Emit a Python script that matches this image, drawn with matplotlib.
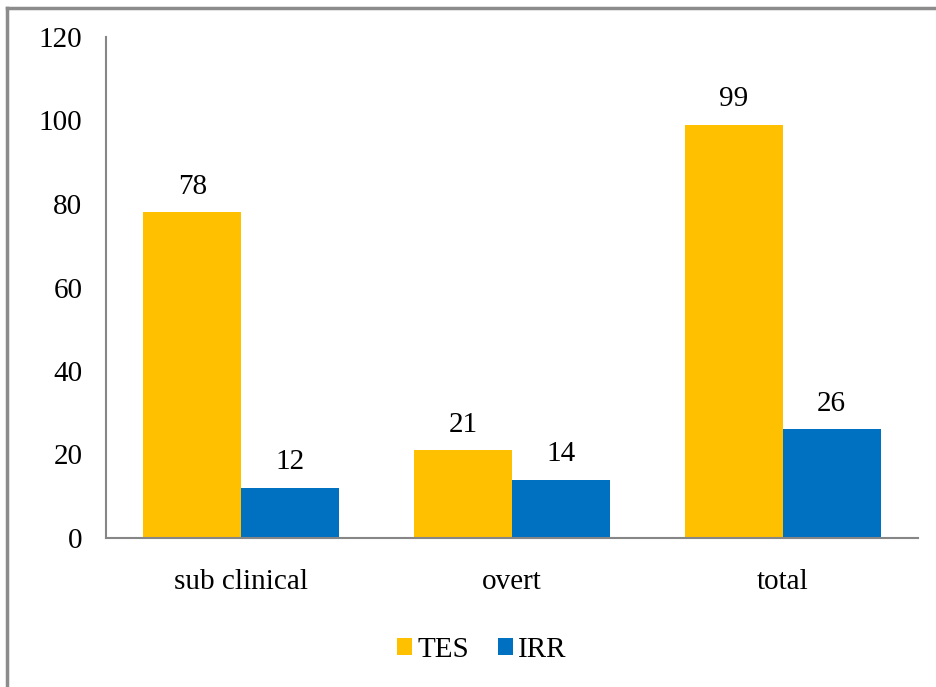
import matplotlib.pyplot as plt
from matplotlib.lines import Line2D
import numpy as np

categories = ["sub clinical", "overt", "total"]
tes = [78, 21, 99]
irr = [12, 14, 26]
yticks = [0, 20, 40, 60, 80, 100, 120]

plt.rcParams["font.family"] = "Liberation Serif"
fs = 21

fig = plt.figure(figsize=(9.37, 6.87), dpi=100)
ax = fig.add_axes([106 / 937, 1 - 538 / 687, 812 / 937, 501 / 687])

x = np.arange(len(categories))
w = 0.362
b1 = ax.bar(x - w / 2, tes, w, color="#FFC000", label="TES")
b2 = ax.bar(x + w / 2, irr, w, color="#0070C0", label="IRR")

for bars, vals in ((b1, tes), (b2, irr)):
    for r, v in zip(bars, vals):
        ax.text(r.get_x() + r.get_width() / 2, v + 3, str(v),
                ha="center", va="bottom", fontsize=fs)

ax.set_xlim(-0.5, 2.5)
ax.set_ylim(0, 120)
ax.set_yticks(yticks)
ax.set_xticks(x)
ax.set_xticklabels(categories)
ax.tick_params(axis="y", length=0, pad=17, labelsize=fs)
ax.tick_params(axis="x", length=0, pad=22, labelsize=fs)
for s in ("top", "right"):
    ax.spines[s].set_visible(False)
for s in ("left", "bottom"):
    ax.spines[s].set_color("#868686")
    ax.spines[s].set_linewidth(1.5)

fig.legend(handles=[b1, b2], loc="center", bbox_to_anchor=(482 / 937, 1 - 650 / 687),
           ncol=2, frameon=False, handlelength=0.52, handleheight=0.52,
           handletextpad=0.17, columnspacing=1.0, fontsize=fs)

# outer frame, top and left edges only
fig.add_artist(Line2D([7 / 937, 1], [1 - 8 / 687, 1 - 8 / 687],
                      transform=fig.transFigure, color="#8c8c8c", lw=2.5))
fig.add_artist(Line2D([7 / 937, 7 / 937], [0, 1 - 8 / 687],
                      transform=fig.transFigure, color="#8c8c8c", lw=2.5))

fig.savefig("out.png", dpi=100)
